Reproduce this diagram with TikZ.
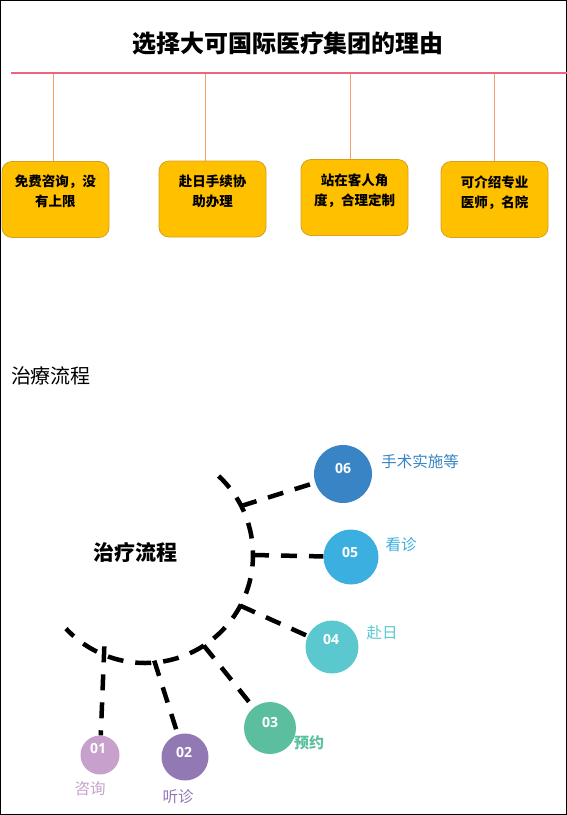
\documentclass[tikz,border=0pt]{standalone}
\usepackage{fontspec}
\usetikzlibrary{calc}
\setmainfont{Noto Sans CJK SC}
\newfontfamily\numfont{Open Sans}
\definecolor{pinkline}{RGB}{238,100,128}
\definecolor{orangeline}{RGB}{244,160,100}
\definecolor{boxfill}{RGB}{255,192,0}
\definecolor{boxdraw}{RGB}{214,160,30}
\definecolor{cA}{RGB}{200,160,204}
\definecolor{cB}{RGB}{147,121,180}
\definecolor{cC}{RGB}{91,191,159}
\definecolor{cD}{RGB}{91,200,208}
\definecolor{cE}{RGB}{59,175,224}
\definecolor{cF}{RGB}{56,132,196}
\begin{document}
\begin{tikzpicture}[x=1pt,y=1pt,yscale=-1,
  reasonbox/.style={draw=boxdraw,fill=boxfill,rounded corners=10pt,minimum width=107pt,minimum height=76pt,inner sep=0pt,line width=0.8pt},
  reasontext/.style={anchor=north,align=center,font=\fontsize{13.5}{20}\selectfont\bfseries,inner sep=0pt},
  stem/.style={orangeline,line width=0.9pt},
  spine/.style={line width=4.5pt,dash pattern=on 16pt off 12pt},
  stepdot/.style={circle,inner sep=0pt},
  numtext/.style={text=white,font=\numfont\fontsize{14}{14}\selectfont\bfseries},
  steplabel/.style={font=\fontsize{15.5}{15.5}\selectfont}
]
\useasboundingbox (0,0) rectangle (567,815);
\draw[line width=1pt] (0.5,0.5) rectangle (566.5,814.5);

% title
\node[font=\fontsize{24}{24}\selectfont\bfseries] (title) at (288,43) {选择大可国际医疗集团的理由};
\coordinate (lineL) at (11,73);
\coordinate (lineR) at (567,73);
\draw[pinkline,line width=1.6pt] (lineL) -- (lineR);

% boxes
\node[reasonbox] (b1) at (55.5,199.5) {};
\node[reasonbox] (b2) at (212.5,199) {};
\node[reasonbox] (b3) at (354.5,197.5) {};
\node[reasonbox] (b4) at (494.5,199.5) {};
\coordinate (s1) at (53,74);
\coordinate (s2) at (205,74);
\coordinate (s3) at (350,74);
\coordinate (s4) at (494,74);
\draw[stem] (s1) -- (b1.north -| s1);
\draw[stem] (s2) -- (b2.north -| s2);
\draw[stem] (s3) -- (b3.north -| s3);
\draw[stem] (s4) -- (b4.north -| s4);
\node[reasontext] (t1) at ([yshift=14pt]b1.north) {免费咨询，没\\有上限};
\node[reasontext] (t2) at ([yshift=14pt]b2.north) {赴日手续协\\助办理};
\node[reasontext] (t3) at ([yshift=14pt]b3.north) {站在客人角\\度，合理定制};
\node[reasontext] (t4) at ([yshift=14pt]b4.north) {可介绍专业\\医师，名院};

% section heading
\node[font=\fontsize{20}{20}\selectfont] (sec) at (51,376) {治療流程};

% spine arc
\coordinate (O) at (145,555);
\draw[spine] ($(O)+(-47:108)$) arc[start angle=-47,end angle=137,radius=108];
\node[font=\fontsize{21}{21}\selectfont\bfseries] (center) at (135,552) {治疗流程};

% circles
\node[stepdot,fill=cF,minimum size=58pt] (c6) at (343,474) {};
\node[stepdot,fill=cE,minimum size=55pt] (c5) at (351,557) {};
\node[stepdot,fill=cD,minimum size=53pt] (c4) at (332,647) {};
\node[stepdot,fill=cC,minimum size=52pt] (c3) at (270,728) {};
\node[stepdot,fill=cB,minimum size=47pt] (c2) at (185,757) {};
\node[stepdot,fill=cA,minimum size=39pt] (c1) at (100,755) {};

\node[numtext] (n6) at (343,468) {06};
\node[numtext] (n5) at (350,552) {05};
\node[numtext] (n4) at (331,639) {04};
\node[numtext] (n3) at (270,722) {03};
\node[numtext] (n2) at (184,752) {02};
\node[numtext] (n1) at (98,748) {01};

% branch points
\coordinate (p6) at ($(O)+(-27:108)$);
\coordinate (p5) at ($(O)+(0:108)$);
\coordinate (p4) at ($(O)+(28:108)$);
\coordinate (p3) at ($(O)+(57:108)$);
\coordinate (p2) at ($(O)+(85:106)$);
\coordinate (p1) at ($(O)+(114:100)$);
\draw[spine] (p6) -- (c6);
\draw[spine] (p5) -- (c5);
\draw[spine] (p4) -- (c4);
\draw[spine] (p3) -- (c3);
\draw[spine] (p2) -- (c2);
\draw[spine] (p1) -- (c1);

% labels
\node[steplabel,text=cF] (l6) at (420,462) {手术实施等};
\node[steplabel,text=cE] (l5) at (401,545) {看诊};
\node[steplabel,text=cD] (l4) at (382,633) {赴日};
\node[steplabel,text=cC,font=\fontsize{15}{15}\selectfont\bfseries] (l3) at (309,743) {预约};
\node[steplabel,text=cA] (l1) at (90,789) {咨询};
\node[steplabel,text=cB] (l2) at (178,797) {听诊};
\end{tikzpicture}
\end{document}
